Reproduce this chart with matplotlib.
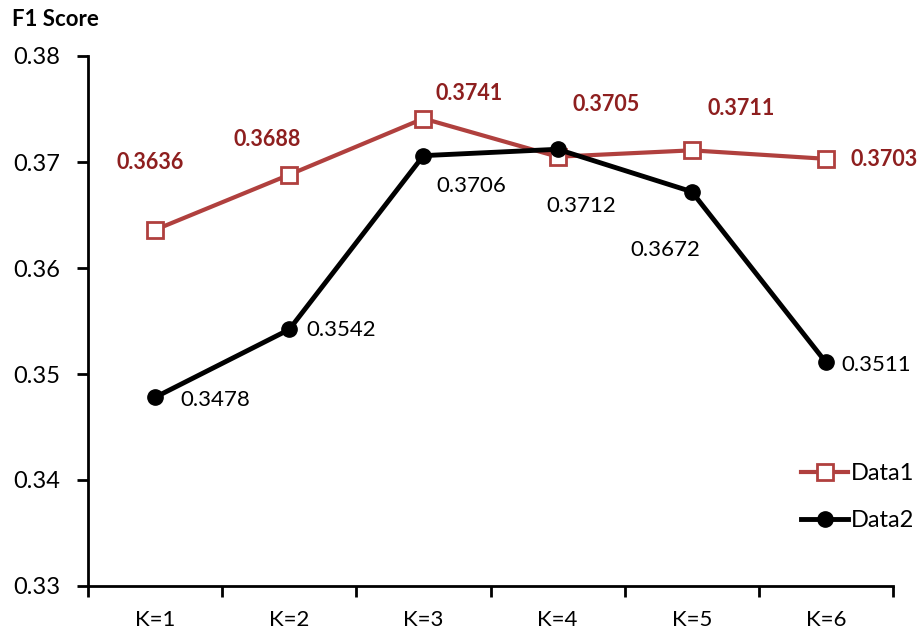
import matplotlib.pyplot as plt

categories = ["K=1", "K=2", "K=3", "K=4", "K=5", "K=6"]
data1 = [0.3636, 0.3688, 0.3741, 0.3705, 0.3711, 0.3703]
data2 = [0.3478, 0.3542, 0.3706, 0.3712, 0.3672, 0.3511]
yticks = [0.33, 0.34, 0.35, 0.36, 0.37, 0.38]

# label offsets in pixels (dx, dy), hand placed like the original
off1 = [(-5, 67), (-22, 35), (46, 25), (49, 52), (49, 42), (58, -1)]
off2 = [(60, -3), (52, -1), (48, -30), (24, -57), (-26, -58), (50, -3)]

red = "#B0403E"
dark_red = "#8E1F1F"

plt.rcParams['font.family'] = ['Lato', 'DejaVu Sans']

fig = plt.figure(figsize=(9.22, 6.34), dpi=100)
ax = fig.add_axes([88 / 922, 1 - 586 / 634, (893 - 88) / 922, (586 - 56) / 634])

x = list(range(len(categories)))
ax.plot(x, data1, color=red, lw=3, marker="s", ms=12, mfc="white",
        mec=red, mew=2, label="Data1", zorder=2)
ax.plot(x, data2, color="black", lw=3.5, marker="o", ms=11,
        label="Data2", zorder=3)

for i, v in enumerate(data1):
    ax.annotate(f"{v:.4f}", (i, v), xytext=off1[i], textcoords="offset pixels",
                ha="center", va="center", color=dark_red, fontsize=15.5,
                fontweight="bold")
for i, v in enumerate(data2):
    ax.annotate(f"{v:.4f}", (i, v), xytext=off2[i], textcoords="offset pixels",
                ha="center", va="center", color="black", fontsize=16)

ax.set_xlim(-0.5, len(categories) - 0.5)
ax.set_ylim(0.33, 0.38)
ax.set_yticks(yticks)
ax.set_yticklabels([f"{t:.2f}" for t in yticks], fontsize=17)
ax.set_xticks(x)
ax.set_xticklabels(categories, fontsize=16)
ax.set_xticks([i - 0.5 for i in range(len(categories) + 1)], minor=True)
ax.tick_params(axis="x", which="major", length=0, pad=17)
ax.tick_params(axis="x", which="minor", length=8, width=2, direction="out")
ax.tick_params(axis="y", length=8, width=2, direction="out", pad=12)

for s in ["top", "right"]:
    ax.spines[s].set_visible(False)
for s in ["left", "bottom"]:
    ax.spines[s].set_linewidth(2)

fig.text(12 / 922, 1 - 20 / 634, "F1 Score", fontsize=16, fontweight="bold",
         va="center", ha="left")

ax.legend(loc="center left", bbox_to_anchor=(801 / 922, 1 - 497 / 634),
          bbox_transform=fig.transFigure, frameon=False, borderpad=0,
          borderaxespad=0, handlelength=2.0, handletextpad=0.1,
          labelspacing=1.1, prop={"size": 17})

fig.savefig("out.png", dpi=100)
